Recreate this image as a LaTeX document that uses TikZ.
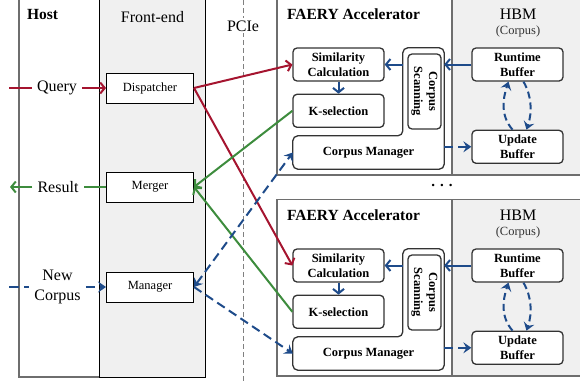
\documentclass[tikz,border=0pt]{standalone}
\usepackage{fontspec}
\setmainfont{Liberation Serif}
\usetikzlibrary{arrows.meta, positioning}
\definecolor{qred}{HTML}{A5142F}
\definecolor{rgreen}{HTML}{3D8C3D}
\definecolor{cblue}{HTML}{1E4B8A}
\definecolor{panelgray}{HTML}{F0F0F0}
\definecolor{linegray}{HTML}{6E6E6E}

\begin{document}
\begin{tikzpicture}[x=1pt, y=-1pt,
    big/.style={font=\fontsize{16}{20}\selectfont},
    bigb/.style={font=\bfseries\fontsize{15.5}{19}\selectfont},
    fe box/.style={draw, line width=1pt, fill=white, minimum width=87pt,
        minimum height=30pt, font=\fontsize{12.5}{15}\selectfont},
    acc box/.style={draw=black!80, line width=1.3pt, rounded corners=4pt,
        fill=white, minimum width=91pt, minimum height=33pt, align=center,
        inner sep=1pt, font=\bfseries\fontsize{12.5}{15}\selectfont},
    lbl/.style={big, fill=white, inner sep=5pt, align=center},
    qarr/.style={qred, line width=2pt, -{Straight Barb[length=4.5pt,width=11pt]}},
    rarr/.style={rgreen, line width=2pt, -{Straight Barb[length=4.5pt,width=11pt]}},
    barr/.style={cblue, line width=2pt, -{Straight Barb[length=4.5pt,width=11pt]}},
    bdash/.style={cblue, line width=2pt, dash pattern=on 9pt off 5pt,
        -{Stealth[length=8pt,width=11pt,inset=3pt]}},
    bloop/.style={bdash, dash pattern=on 7pt off 4pt}]

    \useasboundingbox (0,0) rectangle (580,381);

    % host and front-end
    \draw[linegray, line width=1.4pt] (19,-2) -- (19,377) -- (99,377);
    \draw[line width=1pt, fill=panelgray] (99,-2) rectangle (205,377);
    \node[bigb, anchor=base] at (42.5,19) {Host};
    \node[big, anchor=base] at (152.5,22) {Front-end};
    \draw[gray, line width=0.7pt, dash pattern=on 5pt off 3pt] (243,0) -- (243,381);
    \node[big, anchor=base, fill=white, inner sep=2pt] at (243,31) {PCIe};

    \node[fe box] (disp) at (150,88) {Dispatcher};
    \node[fe box] (mg) at (150,187) {Merger};
    \node[fe box] (mgr) at (150,287) {Manager};

    \foreach \dy/\i in {0/1, 201/2}{
    \begin{scope}[shift={(0,\dy)}]
        \draw[linegray, line width=1.4pt, fill=white] (277,-1.5) rectangle (452,175);
        \draw[linegray, line width=1.4pt, fill=panelgray] (452,-1.5) rectangle (590,175);
        \node[bigb, anchor=base] at (353.5,19) {FAERY Accelerator};
        \node[big, anchor=base] at (518,19) {HBM};
        \node[font=\fontsize{12.5}{15}\selectfont, text=black!80, anchor=base] at (518,34) {(Corpus)};

        \node[acc box] (sc\i) at (338.5,64.5) {Similarity\\Calculation};
        \node[acc box, below=12pt of sc\i] (ks\i) {K-selection};
        \node[minimum width=41pt, minimum height=121pt, inner sep=0] (col\i) at (423.5,108.5) {};
        \node[minimum width=151pt, minimum height=33pt, inner sep=0,
            font=\bfseries\fontsize{12.5}{15}\selectfont] (cm\i) at (368.5,152.5) {Corpus Manager};
        \draw[draw=black!80, line width=1.3pt, rounded corners=5pt]
            (cm\i.north west) -- (col\i.west |- cm\i.north) -- (col\i.north west)
            -- (col\i.north east) -- (cm\i.south east) -- (cm\i.south west) -- cycle;
        \node[acc box, minimum width=75pt, rotate=-90] (cs\i) at (424.5,91.5) {Corpus\\Scanning};

        \node[acc box] (rb\i) at (517.5,64.5) {Runtime\\Buffer};
        \node[acc box, below=48pt of rb\i] (ub\i) {Update\\Buffer};

        \draw[barr] (rb\i.west) -- (rb\i.west -| col\i.east);
        \draw[barr] (sc\i.east -| col\i.west) -- (sc\i.east);
        \draw[barr] (sc\i) -- (ks\i);
        \draw[bdash] (ub\i.west -| cm\i.east) -- (ub\i.west);
        \draw[bloop] ([xshift=-5pt]ub\i.north) .. controls +(-12,-14) and +(-6,18) .. ([xshift=-9pt]rb\i.south);
        \draw[bloop] ([xshift=6pt]rb\i.south) .. controls +(8,14) and +(6,-18) .. ([xshift=9pt]ub\i.north);
    \end{scope}
    }
    \node[font=\bfseries\fontsize{15}{16}\selectfont] (dots) at (442,185) {. . .};

    % host side
    \node[lbl] (qry) at (57,88) {Query};
    \node[lbl] (res) at (58,187) {Result};
    \node[lbl] (nc) at (57.5,287) {New\\Corpus};
    \coordinate (qin) at (9,88);
    \coordinate (rout) at (10,187);
    \coordinate (nin) at (9,287);
    \draw[qred, line width=2pt] (qin) -- (qry.west);
    \draw[qarr] (qry.east) -- (disp.west);
    \draw[rgreen, line width=2pt] (mg.west) -- (res.east);
    \draw[rarr] (res.west) -- (rout);
    \draw[cblue, line width=2pt, dash pattern=on 10pt off 5pt] (nin) -- (nc.west);
    \draw[bdash] (nc.east) -- (mgr.west);

    % front-end to accelerators
    \draw[qarr] (disp.east) -- (sc1.west);
    \draw[qarr] (disp.east) -- (sc2.west);
    \draw[rarr] (ks1.west) -- (mg.east);
    \draw[rarr] (ks2.west) -- (mg.east);
    \draw[bdash, {Stealth[length=8pt,width=11pt,inset=3pt]}-{Stealth[length=8pt,width=11pt,inset=3pt]}] (mgr.east) -- (cm1.west);
    \draw[bdash] (mgr.east) -- (cm2.west);

\end{tikzpicture}
\end{document}
